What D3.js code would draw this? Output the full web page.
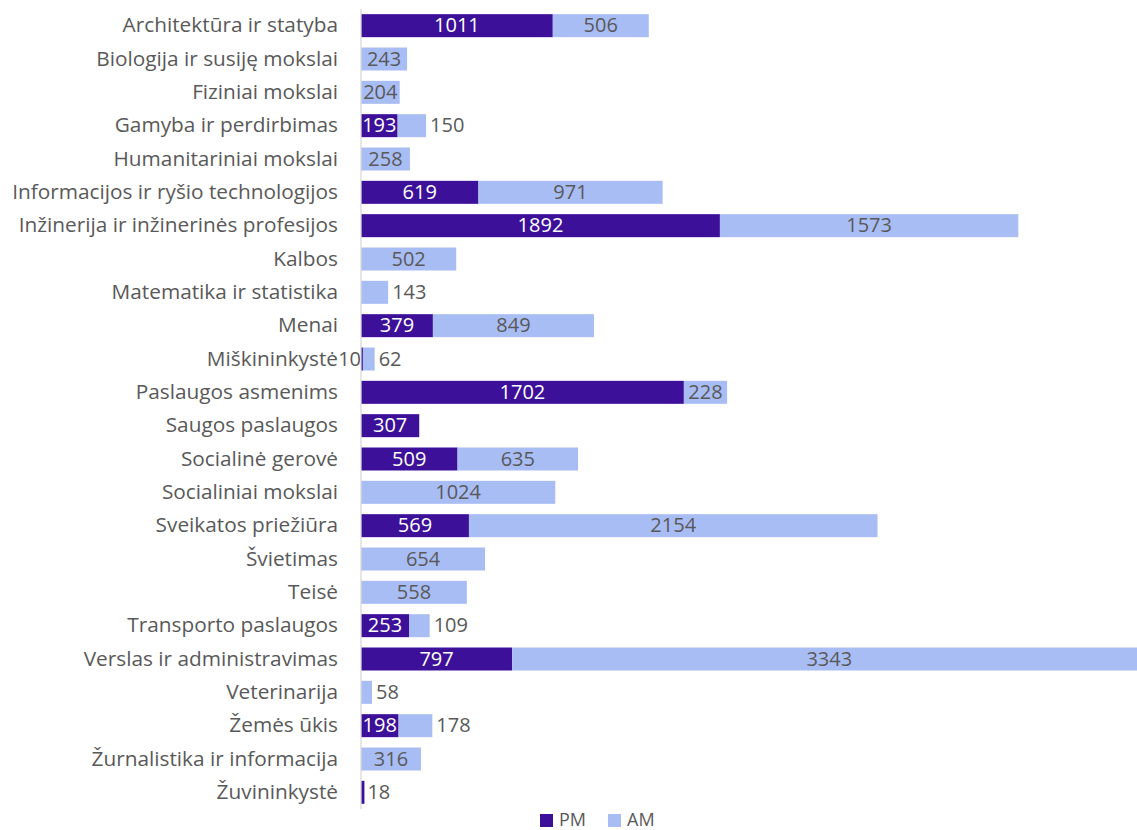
<!DOCTYPE html>
<html>
<head>
<meta charset="utf-8">
<script src="https://cdn.jsdelivr.net/npm/d3@7"></script>
<style>
    body { margin: 0; background: #fff; }
    text { font-family: "Open Sans", sans-serif; fill: #595959; }
</style>
</head>
<body>
<svg></svg>
<script>
    //-------------------
    // DATA
    //-------------------
    var categories = [
        "Architektūra ir statyba", "Biologija ir susiję mokslai", "Fiziniai mokslai",
        "Gamyba ir perdirbimas", "Humanitariniai mokslai", "Informacijos ir ryšio technologijos",
        "Inžinerija ir inžinerinės profesijos", "Kalbos", "Matematika ir statistika", "Menai",
        "Miškininkystė", "Paslaugos asmenims", "Saugos paslaugos", "Socialinė gerovė",
        "Socialiniai mokslai", "Sveikatos priežiūra", "Švietimas", "Teisė",
        "Transporto paslaugos", "Verslas ir administravimas", "Veterinarija", "Žemės ūkis",
        "Žurnalistika ir informacija", "Žuvininkystė"
    ];
    var pmValues = [1011, 0, 0, 193, 0, 619, 1892, 0, 0, 379, 10, 1702, 307, 509, 0, 569, 0, 0, 253, 797, 0, 198, 0, 18];
    var amValues = [506, 243, 204, 150, 258, 971, 1573, 502, 143, 849, 62, 228, 0, 635, 1024, 2154, 654, 558, 109, 3343, 58, 178, 316, 0];
    var seriesNames = ["PM", "AM"];
    var seriesColors = ["#3c1099", "#a9bdf5"];

    //-------------------
    // GLOBAL VARIABLES
    //-------------------
    var width = 1137, height = 830;
    var axisX = 361;

    var svg = d3.select("svg")
        .attr("width", width)
        .attr("height", height);

    var x = d3.scaleLinear()
        .domain([0, 4500])
        .range([axisX, axisX + 4500 * 0.1897]);

    var y = d3.scaleBand()
        .domain(categories)
        .range([9, 809])
        .paddingInner(0.31)
        .paddingOuter(0.155);

    var rows = categories.map((c, i) => ({ cat: c, pm: pmValues[i], am: amValues[i] }));

    //-------------------
    // BARS
    //-------------------
    var g = svg.append("g");

    var row = g.selectAll("g.row").data(rows)
        .enter()
        .append("g")
        .attr("class", "row");

    row.append("rect")
        .attr("x", d => x(0))
        .attr("y", d => y(d.cat))
        .attr("width", d => x(d.pm) - x(0))
        .attr("height", y.bandwidth())
        .attr("fill", seriesColors[0]);

    row.append("rect")
        .attr("x", d => x(d.pm))
        .attr("y", d => y(d.cat))
        .attr("width", d => x(d.pm + d.am) - x(d.pm))
        .attr("height", y.bandwidth())
        .attr("fill", seriesColors[1]);

    // axis line
    svg.append("line")
        .attr("x1", axisX).attr("x2", axisX)
        .attr("y1", 9).attr("y2", 809)
        .attr("stroke", "#d9d9d9")
        .attr("stroke-width", 1.3);

    //-------------------
    // LABELS
    //-------------------
    var fontSize = 20;
    function textWidth(s) { return s.length * 11.4; }

    row.each(function (d) {
        var sel = d3.select(this);
        var cy = y(d.cat) + y.bandwidth() / 2 + 6.5;
        // PM label
        if (d.pm > 0) {
            var w = x(d.pm) - x(0);
            var t = String(d.pm);
            var lab = sel.append("text").attr("y", cy).style("font-size", fontSize + "px").text(t);
            if (w >= textWidth(t)) {
                lab.attr("x", (x(0) + x(d.pm)) / 2).attr("text-anchor", "middle").style("fill", "#fff");
            } else if (d.am > 0) {
                lab.attr("x", x(0)).attr("text-anchor", "end");
            } else {
                lab.attr("x", x(d.pm) + 3).attr("text-anchor", "start");
            }
        }
        // AM label
        if (d.am > 0) {
            var w2 = x(d.pm + d.am) - x(d.pm);
            var t2 = String(d.am);
            var lab2 = sel.append("text").attr("y", cy).style("font-size", fontSize + "px").text(t2);
            if (w2 >= textWidth(t2) + 2) {
                lab2.attr("x", (x(d.pm) + x(d.pm + d.am)) / 2).attr("text-anchor", "middle");
            } else {
                lab2.attr("x", x(d.pm + d.am) + 4).attr("text-anchor", "start");
            }
        }
    });

    // category labels
    svg.selectAll("text.cat").data(categories)
        .enter()
        .append("text")
        .attr("class", "cat")
        .attr("x", 338)
        .attr("y", d => y(d) + y.bandwidth() / 2 + 6.5)
        .attr("text-anchor", "end")
        .style("font-size", "20.8px")
        .text(d => d);

    //-------------------
    // LEGEND
    //-------------------
    var legendX = [540, 608];
    var legend = svg.selectAll("g.legend").data(seriesNames)
        .enter()
        .append("g")
        .attr("class", "legend")
        .attr("transform", (d, i) => "translate(" + legendX[i] + ",814)");

    legend.append("rect")
        .attr("width", 13).attr("height", 13)
        .attr("fill", (d, i) => seriesColors[i]);

    legend.append("text")
        .attr("x", 19).attr("y", 12)
        .style("font-size", "18px")
        .text(d => d);
</script>
</body>
</html>
